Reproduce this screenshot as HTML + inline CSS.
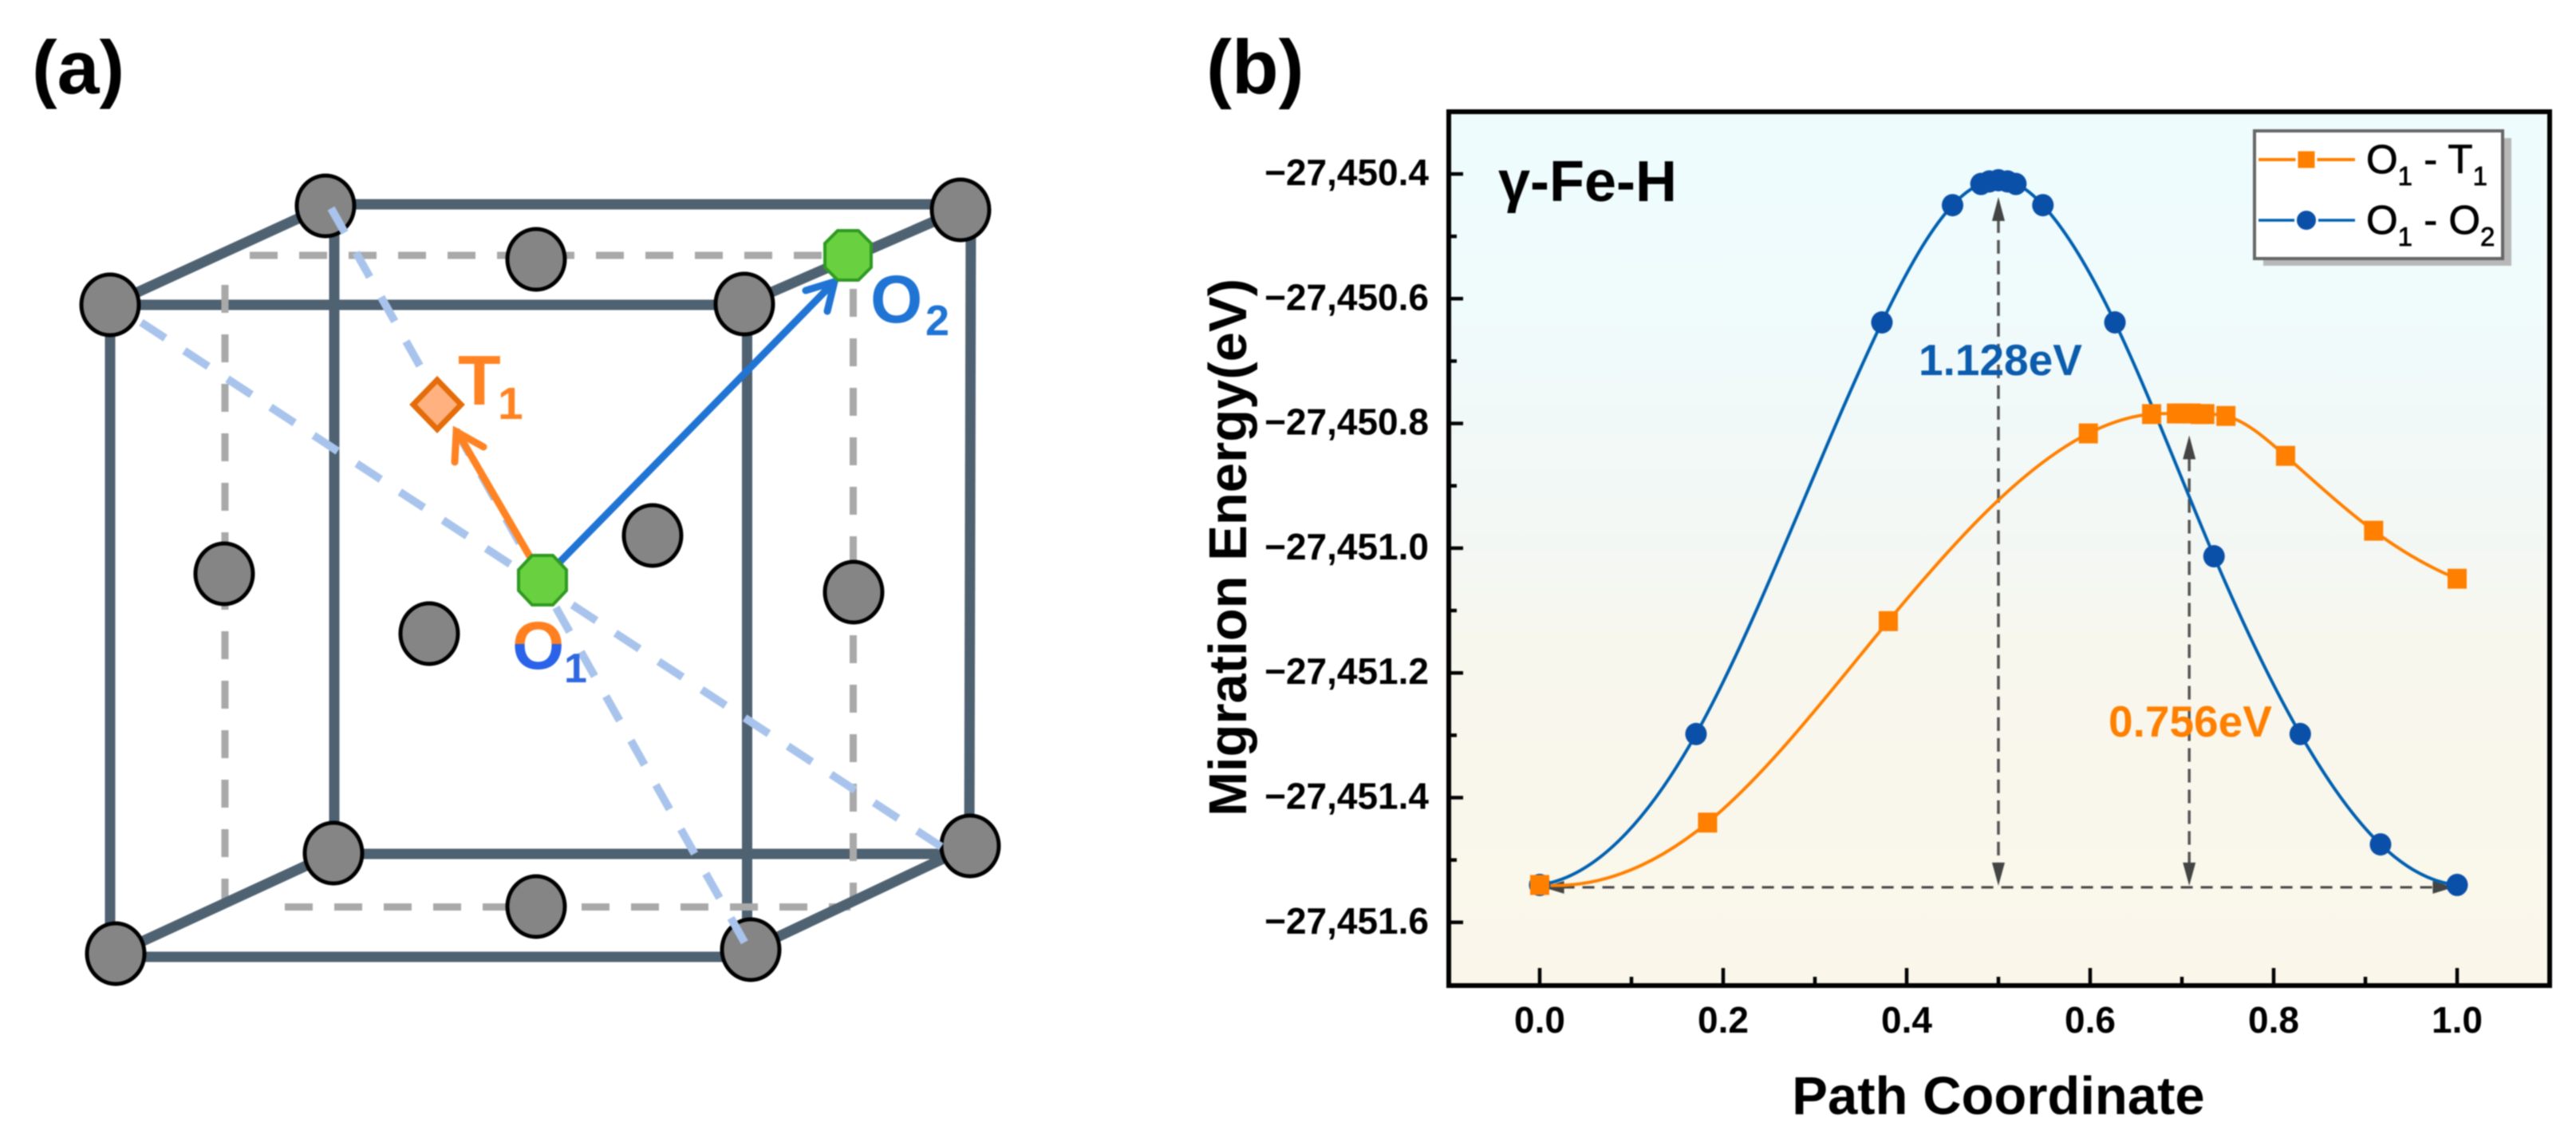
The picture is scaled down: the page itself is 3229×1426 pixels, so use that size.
<!DOCTYPE html>
<html lang="en">
<head>
<meta charset="utf-8">
<title>γ-Fe-H migration paths</title>
<style>
html,body{margin:0;padding:0;background:#fff;width:3229px;height:1426px;overflow:hidden}
svg{display:block;filter:blur(0.7px)}
text{font-family:"Liberation Sans",Arial,sans-serif}
</style>
</head>
<body>
<svg id="figure" xmlns="http://www.w3.org/2000/svg" width="3229" height="1426" viewBox="0 0 3229 1426">
<defs>
<linearGradient id="plotBg" x1="0" y1="0" x2="0" y2="1">
<stop offset="0" stop-color="#eefcfe"/>
<stop offset="0.28" stop-color="#f0fafa"/>
<stop offset="0.5" stop-color="#f3f7f3"/>
<stop offset="0.62" stop-color="#f8f7ed"/>
<stop offset="1" stop-color="#faf6ea"/>
</linearGradient>
<clipPath id="o1TopClip"><rect x="630" y="760" width="90" height="47"/></clipPath>
<clipPath id="o1BottomClip"><rect x="630" y="807" width="90" height="47"/></clipPath>
</defs>
<rect width="3229" height="1426" fill="#fff"/>

<text x="40" y="117" font-size="95" font-weight="bold" fill="#000">(a)</text>
<text x="1512" y="117" font-size="96" font-weight="bold" fill="#000">(b)</text>

<g>
  <g stroke="#4f6272" stroke-width="13" fill="none">
    <line x1="408" y1="256" x2="1204" y2="256"/>
    <line x1="138" y1="382" x2="933" y2="382"/>
    <line x1="418" y1="1070" x2="1216" y2="1070"/>
    <line x1="145" y1="1199" x2="941" y2="1199"/>
    <line x1="138" y1="382" x2="138" y2="1195"/>
    <line x1="419" y1="258" x2="419" y2="1069"/>
    <line x1="936.5" y1="381" x2="936.5" y2="1190"/>
    <line x1="1217" y1="263" x2="1215" y2="1060"/>
  </g>
  <g stroke="#a9a9a9" stroke-width="9" fill="none" stroke-dasharray="35 27">
    <line x1="313" y1="320" x2="1030" y2="320"/>
    <line x1="357" y1="1136.5" x2="1066" y2="1136.5"/>
    <line x1="282" y1="357" x2="282" y2="1130"/>
    <line x1="1069.5" y1="362" x2="1069.5" y2="1130"/>
  </g>
  <g stroke="#4f6272" stroke-width="13" fill="none">
    <line x1="138" y1="382" x2="408" y2="258"/>
    <line x1="933" y1="381" x2="1204" y2="263"/>
    <line x1="145" y1="1195" x2="418" y2="1069"/>
    <line x1="941" y1="1190" x2="1216" y2="1060"/>
  </g>
  <g fill="#858585" stroke="#000" stroke-width="5">
    <ellipse cx="408" cy="258" rx="36" ry="38"/>
    <ellipse cx="138" cy="382" rx="36" ry="38"/>
    <ellipse cx="1204" cy="263" rx="36" ry="38"/>
    <ellipse cx="933" cy="381" rx="36" ry="38"/>
    <ellipse cx="672" cy="325" rx="36" ry="38"/>
    <ellipse cx="281" cy="719" rx="36" ry="38"/>
    <ellipse cx="538" cy="794" rx="36" ry="38"/>
    <ellipse cx="818" cy="671" rx="36" ry="38"/>
    <ellipse cx="1070" cy="742" rx="36" ry="38"/>
    <ellipse cx="418" cy="1069" rx="36" ry="38"/>
    <ellipse cx="145" cy="1195" rx="36" ry="38"/>
    <ellipse cx="672" cy="1136" rx="36" ry="38"/>
    <ellipse cx="941" cy="1190" rx="36" ry="38"/>
    <ellipse cx="1216" cy="1060" rx="36" ry="38"/>
  </g>
  <g stroke="#a9c4ec" stroke-width="10" fill="none">
    <line x1="177" y1="404" x2="1180" y2="1061" stroke-dasharray="36 28.6"/>
    <line x1="415" y1="261" x2="939" y2="1191" stroke-dasharray="35 28.8"/>
  </g>
  <g stroke="#ff8322" stroke-width="9" fill="none" stroke-linecap="round" stroke-linejoin="miter">
    <line x1="668" y1="704" x2="573" y2="541"/>
    <polyline points="606,560 572,541 570,579"/>
  </g>
  <g stroke="#1f74d4" stroke-width="9" fill="none" stroke-linecap="round">
    <line x1="696" y1="710" x2="1045" y2="354"/>
    <polyline points="1010,364 1046,353 1037,390"/>
  </g>
  <polygon points="667,696 693,696 710,714 710,740 693,758 667,758 650,740 650,714" fill="#69d03f" stroke="#2f9a22" stroke-width="4"/>
  <polygon points="1050,289 1076,289 1092,305 1092,335 1076,351 1050,351 1034,335 1034,305" fill="#69d03f" stroke="#2f9a22" stroke-width="4"/>
  <polygon points="548,476 578,507 548,538 518,507" fill="#ffb27f" stroke="#e46c0a" stroke-width="7"/>
  <text x="642" y="838" font-size="84" font-weight="bold" fill="#ff8020" clip-path="url(#o1TopClip)">O</text>
  <text x="642" y="838" font-size="84" font-weight="bold" fill="#2a62ea" clip-path="url(#o1BottomClip)">O</text>
  <text x="707" y="855" font-size="52" font-weight="bold" fill="#2f68e0">1</text>
  <text x="1091" y="404" font-size="84" font-weight="bold" fill="#1f74d4">O</text>
  <text x="1160" y="420" font-size="54" font-weight="bold" fill="#1f74d4">2</text>
  <text x="574" y="507" font-size="88" font-weight="bold" fill="#ff8322">T</text>
  <text x="624" y="525" font-size="57" font-weight="bold" fill="#ff8322">1</text>
</g>

<g id="chart">
  <rect x="1816" y="140" width="1380" height="1095" fill="url(#plotBg)"/>
  <g id="annotations"></g>
  <g id="series"></g>
  <g id="axes"></g>
  <rect x="1816" y="140" width="1380" height="1095" fill="none" stroke="#000" stroke-width="6"/>
  <text transform="translate(1562,686) rotate(-90)" text-anchor="middle" font-size="67" font-weight="bold" fill="#000">Migration Energy(eV)</text>
  <text x="2505" y="1396" text-anchor="middle" font-size="67" font-weight="bold" fill="#000">Path Coordinate</text>
  <text x="1878" y="252" font-size="72" font-weight="bold" fill="#000">γ-Fe-H</text>
  <text x="2405" y="470" font-size="55" font-weight="bold" fill="#0b5cad">1.128eV</text>
  <text x="2643" y="923" font-size="55" font-weight="bold" fill="#ff8000">0.756eV</text>
  <g>
    <rect x="2837" y="173" width="311" height="160" fill="#b8b8b8"/>
    <rect x="2826" y="164" width="311" height="160" fill="#fff" stroke="#666" stroke-width="4"/>
    <g>
      <line x1="2831" y1="200" x2="2952" y2="200" stroke="#ff8000" stroke-width="4"/>
      <rect x="2879" y="188" width="24" height="24" fill="#ff8000" stroke="#fff" stroke-width="3"/>
      <text x="2966" y="217" font-size="51" fill="#000" stroke="#000" stroke-width="0.8" style="white-space:pre">O<tspan font-size="33" dy="15">1</tspan><tspan dy="-15"> - T</tspan><tspan font-size="33" dy="15">1</tspan></text>
    </g>
    <g>
      <line x1="2831" y1="276" x2="2952" y2="276" stroke="#0060b0" stroke-width="3.5"/>
      <ellipse cx="2891" cy="276" rx="13.5" ry="13.5" fill="#0a50a8" stroke="#fff" stroke-width="3"/>
      <text x="2966" y="293" font-size="51" fill="#000" stroke="#000" stroke-width="0.8" style="white-space:pre">O<tspan font-size="33" dy="15">1</tspan><tspan dy="-15"> - O</tspan><tspan font-size="33" dy="15">2</tspan></text>
    </g>
  </g>
</g>
</svg>
<script>
const xTicks = [0, 0.2, 0.4, 0.6, 0.8, 1.0];
const xTickLabels = ['0.0', '0.2', '0.4', '0.6', '0.8', '1.0'];
const xMinorTicks = [0.1, 0.3, 0.5, 0.7, 0.9];
const yTicks = [-27450.4, -27450.6, -27450.8, -27451.0, -27451.2, -27451.4, -27451.6];
const yTickLabels = ['\u221227,450.4', '\u221227,450.6', '\u221227,450.8', '\u221227,451.0', '\u221227,451.2', '\u221227,451.4', '\u221227,451.6'];
const yMinorTicks = [-27450.5, -27450.7, -27450.9, -27451.1, -27451.3, -27451.5];

const t1Coord = [0, 0.183, 0.38, 0.598, 0.667, 0.694, 0.70, 0.71, 0.72, 0.725, 0.748, 0.813, 0.909, 1.0];
const t1Energy = [-27451.54, -27451.44, -27451.117, -27450.816, -27450.785, -27450.784, -27450.784, -27450.784, -27450.785, -27450.785, -27450.788, -27450.852, -27450.972, -27451.049];
const o2Coord = [0, 0.1704, 0.373, 0.45, 0.481, 0.49, 0.5, 0.51, 0.519, 0.5485, 0.627, 0.735, 0.829, 0.9165, 1.0];
const o2Energy = [-27451.54, -27451.298, -27450.638, -27450.45, -27450.416, -27450.412, -27450.41, -27450.412, -27450.416, -27450.45, -27450.638, -27451.013, -27451.298, -27451.475, -27451.54];

const barrierCoord = [0.5, 0.708];
const barrierTopEnergy = [-27450.437, -27450.819];
const baselineEnergy = -27451.54;
const baselineCoordStart = 0.004;
const baselineCoordEnd = 0.996;

function xScale(v) { return 1930 + 1150 * v; }
function yScale(v) { return 218 + (-27450.4 - v) * 781.5; }

const NS = 'http://www.w3.org/2000/svg';
function mk(tag, parent) {
  const el = document.createElementNS(NS, tag);
  parent.appendChild(el);
  return el;
}
function setAll(el, pairs) {
  Object.keys(pairs).forEach(function (k) { el.setAttribute(k, pairs[k]); });
}

// C2 cubic spline through the data, parabolic run-out at both ends
function splinePath(xs, ys) {
  const px = xs.map(xScale);
  const py = ys.map(yScale);
  const n = px.length;
  const h = [];
  const s = [];
  for (let i = 0; i < n - 1; i++) {
    h[i] = px[i + 1] - px[i];
    s[i] = (py[i + 1] - py[i]) / h[i];
  }
  const a = new Array(n).fill(0);
  const b = new Array(n).fill(0);
  const c = new Array(n).fill(0);
  const r = new Array(n).fill(0);
  b[0] = 1; c[0] = 1; r[0] = 2 * s[0];
  for (let i = 1; i < n - 1; i++) {
    a[i] = h[i];
    b[i] = 2 * (h[i - 1] + h[i]);
    c[i] = h[i - 1];
    r[i] = 3 * (h[i] * s[i - 1] + h[i - 1] * s[i]);
  }
  a[n - 1] = 1; b[n - 1] = 1; r[n - 1] = 2 * s[n - 2];
  for (let i = 1; i < n; i++) {
    const w = a[i] / b[i - 1];
    b[i] -= w * c[i - 1];
    r[i] -= w * r[i - 1];
  }
  const m = new Array(n);
  m[n - 1] = r[n - 1] / b[n - 1];
  for (let i = n - 2; i >= 0; i--) {
    m[i] = (r[i] - c[i] * m[i + 1]) / b[i];
  }
  let d = 'M' + px[0].toFixed(1) + ' ' + py[0].toFixed(1);
  for (let i = 0; i < n - 1; i++) {
    d += ' C' + (px[i] + h[i] / 3).toFixed(1) + ' ' + (py[i] + m[i] * h[i] / 3).toFixed(1) +
         ' ' + (px[i + 1] - h[i] / 3).toFixed(1) + ' ' + (py[i + 1] - m[i + 1] * h[i] / 3).toFixed(1) +
         ' ' + px[i + 1].toFixed(1) + ' ' + py[i + 1].toFixed(1);
  }
  return d;
}

const axes = document.getElementById('axes');
const series = document.getElementById('series');
const annotations = document.getElementById('annotations');

xTicks.forEach(function (v, i) {
  const tick = mk('line', axes);
  
  
  setAll(tick, { x1: xScale(v), x2: xScale(v), y1: 1235, y2: 1213, stroke: '#000', 'stroke-width': 4.5 });
  const label = mk('text', axes);
  
  
  setAll(label, { x: xScale(v), y: 1294, 'text-anchor': 'middle', 'font-size': 46, 'font-weight': 'bold', fill: '#000' });
  label.textContent = xTickLabels[i];
});
xMinorTicks.forEach(function (v) {
  const tick = mk('line', axes);
  
  
  setAll(tick, { x1: xScale(v), x2: xScale(v), y1: 1235, y2: 1224, stroke: '#000', 'stroke-width': 4.5 });
});
yTicks.forEach(function (v, i) {
  const tick = mk('line', axes);
  
  
  setAll(tick, { x1: 1816, x2: 1834, y1: yScale(v), y2: yScale(v), stroke: '#000', 'stroke-width': 4.5 });
  const label = mk('text', axes);
  
  
  setAll(label, { x: 1791, y: yScale(v) + 14, 'text-anchor': 'end', 'font-size': 46, 'font-weight': 'bold', fill: '#000' });
  label.textContent = yTickLabels[i];
});
yMinorTicks.forEach(function (v) {
  const tick = mk('line', axes);
  
  
  setAll(tick, { x1: 1816, x2: 1826, y1: yScale(v), y2: yScale(v), stroke: '#000', 'stroke-width': 4.5 });
});

const base = mk('line', annotations);


setAll(base, { x1: xScale(baselineCoordStart) + 24, x2: xScale(baselineCoordEnd) - 24, y1: yScale(baselineEnergy) + 3, y2: yScale(baselineEnergy) + 3, stroke: '#444', 'stroke-width': 3, 'stroke-dasharray': '15 10', fill: 'none' });
[[xScale(baselineCoordStart), 1], [xScale(baselineCoordEnd), -1]].forEach(function (p) {
  const head = mk('polygon', annotations);
  
  
  const by = yScale(baselineEnergy) + 3;
  head.setAttribute('points', p[0] + ',' + by + ' ' + (p[0] + p[1] * 26) + ',' + (by - 8) + ' ' + (p[0] + p[1] * 26) + ',' + (by + 8));
  head.setAttribute('fill', '#444');
});
barrierCoord.forEach(function (c, i) {
  const x = xScale(c);
  const top = yScale(barrierTopEnergy[i]);
  const bottom = yScale(baselineEnergy) + 1;
  const shaft = mk('line', annotations);
  
  
  setAll(shaft, { x1: x, x2: x, y1: top + 28, y2: bottom - 28, stroke: '#555', 'stroke-width': 3.5, 'stroke-dasharray': '17 9', fill: 'none' });
  const upHead = mk('polygon', annotations);
  
  
  upHead.setAttribute('points', x + ',' + top + ' ' + (x - 8) + ',' + (top + 30) + ' ' + (x + 8) + ',' + (top + 30));
  upHead.setAttribute('fill', '#444');
  const downHead = mk('polygon', annotations);
  
  
  downHead.setAttribute('points', x + ',' + bottom + ' ' + (x - 8) + ',' + (bottom - 29) + ' ' + (x + 8) + ',' + (bottom - 29));
  downHead.setAttribute('fill', '#444');
});

const o2Line = mk('path', series);


setAll(o2Line, { d: splinePath(o2Coord, o2Energy), fill: 'none', stroke: '#0060b0', 'stroke-width': 4 });
const t1Line = mk('path', series);


setAll(t1Line, { d: splinePath(t1Coord, t1Energy), fill: 'none', stroke: '#ff8000', 'stroke-width': 4 });

o2Coord.forEach(function (c, i) {
  const pt = mk('ellipse', series);
  
  
  setAll(pt, { cx: xScale(c), cy: yScale(o2Energy[i]), rx: 13.5, ry: 14, fill: '#0a50a8' });
});
t1Coord.forEach(function (c, i) {
  const pt = mk('rect', series);
  
  
  setAll(pt, { x: xScale(c) - 12, y: yScale(t1Energy[i]) - 12.5, width: 24, height: 25, fill: '#ff8000' });
});
</script>
</body>
</html>
